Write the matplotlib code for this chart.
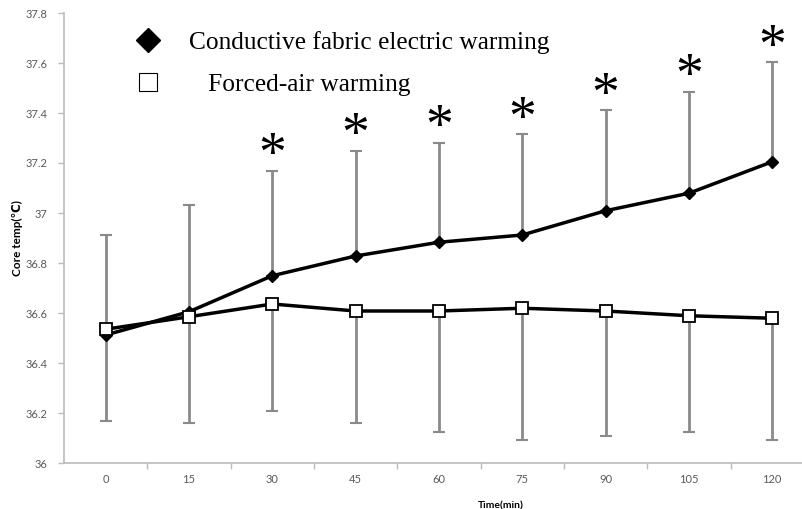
import matplotlib
matplotlib.use('Agg')
import matplotlib.pyplot as plt
from matplotlib.lines import Line2D
import numpy as np

# data
times = ['0', '15', '30', '45', '60', '75', '90', '105', '120']
conductive = [36.512, 36.605, 36.749, 36.828, 36.883, 36.912, 37.009, 37.079, 37.205]
conductive_sd = [0.400, 0.427, 0.419, 0.420, 0.398, 0.403, 0.403, 0.406, 0.399]
forced_air = [36.535, 36.585, 36.636, 36.608, 36.608, 36.619, 36.608, 36.589, 36.579]
forced_air_sd = [0.366, 0.426, 0.427, 0.447, 0.483, 0.527, 0.499, 0.464, 0.487]
significant = [False, False, True, True, True, True, True, True, True]
yticks = [36, 36.2, 36.4, 36.6, 36.8, 37, 37.2, 37.4, 37.6, 37.8]
ytick_labels = ['36', '36.2', '36.4', '36.6', '36.8', '37', '37.2', '37.4', '37.6', '37.8']

plt.rcParams['font.family'] = ['Lato', 'DejaVu Sans']
serif = ['Liberation Serif', 'DejaVu Serif']
grey = '#8a8a8a'

fig = plt.figure(figsize=(8.03, 5.09), dpi=100)
ax = fig.add_axes([64 / 803, 46 / 509, 1 - 64 / 803, 450 / 509])
x = np.arange(len(times))

# error bars: conductive upward, forced-air downward
ax.errorbar(x, conductive, yerr=[np.zeros(len(x)), conductive_sd], fmt='none',
            ecolor=grey, elinewidth=2, capsize=4, capthick=1.5, zorder=1)
ax.errorbar(x, forced_air, yerr=[forced_air_sd, np.zeros(len(x))], fmt='none',
            ecolor=grey, elinewidth=2, capsize=4, capthick=1.5, zorder=1)

ax.plot(x, conductive, '-', color='black', lw=2.5, marker='D', ms=6,
        mfc='black', mec='black', zorder=3)
ax.plot(x, forced_air, '-', color='black', lw=2.5, marker='s', ms=8,
        mfc='white', mec='black', mew=1.3, zorder=3)

for xi, c, sd, s in zip(x, conductive, conductive_sd, significant):
    if s:
        ax.annotate('*', xy=(xi, c + sd), xytext=(0, -9), textcoords='offset points',
                    ha='center', va='bottom', fontsize=40, family=serif)

ax.set_xlim(-0.5, 8.37)
ax.set_ylim(36, 37.8)
ax.set_yticks(yticks)
ax.set_yticklabels(ytick_labels)
ax.set_xticks(x)
ax.set_xticklabels(times)
ax.set_xticks(x[:-1] + 0.5, minor=True)
ax.tick_params(axis='x', which='major', length=0, pad=8, labelsize=8, labelcolor='#595959')
ax.tick_params(axis='x', which='minor', length=4, width=1, color='#bbbbbb', direction='out')
ax.tick_params(axis='y', length=4, width=1, color='#bbbbbb', labelsize=8, labelcolor='#595959', pad=8)

for sp in ['top', 'right']:
    ax.spines[sp].set_visible(False)
for sp in ['left', 'bottom']:
    ax.spines[sp].set_color('#bbbbbb')
    ax.spines[sp].set_linewidth(1.2)

ax.set_ylabel('Core temp(℃)', fontsize=8.5, fontweight='bold', labelpad=2)
ax.set_xlabel('Time(min)', fontsize=7.5, fontweight='bold')
ax.xaxis.set_label_coords(437 / 739, -0.085)

handles = [Line2D([], [], ls='none', marker='D', ms=12, mfc='black', mec='black'),
           Line2D([], [], ls='none', marker='s', ms=13, mfc='white', mec='black', mew=0.8)]
ax.legend(handles, ['Conductive fabric electric warming', '   Forced-air warming'],
          loc='upper left', bbox_to_anchor=(0.062, 1.01), frameon=False,
          prop={'family': serif, 'size': 18.3}, handlelength=1.2, handletextpad=1.0,
          labelspacing=0.75)

fig.savefig('out.png', dpi=100)
